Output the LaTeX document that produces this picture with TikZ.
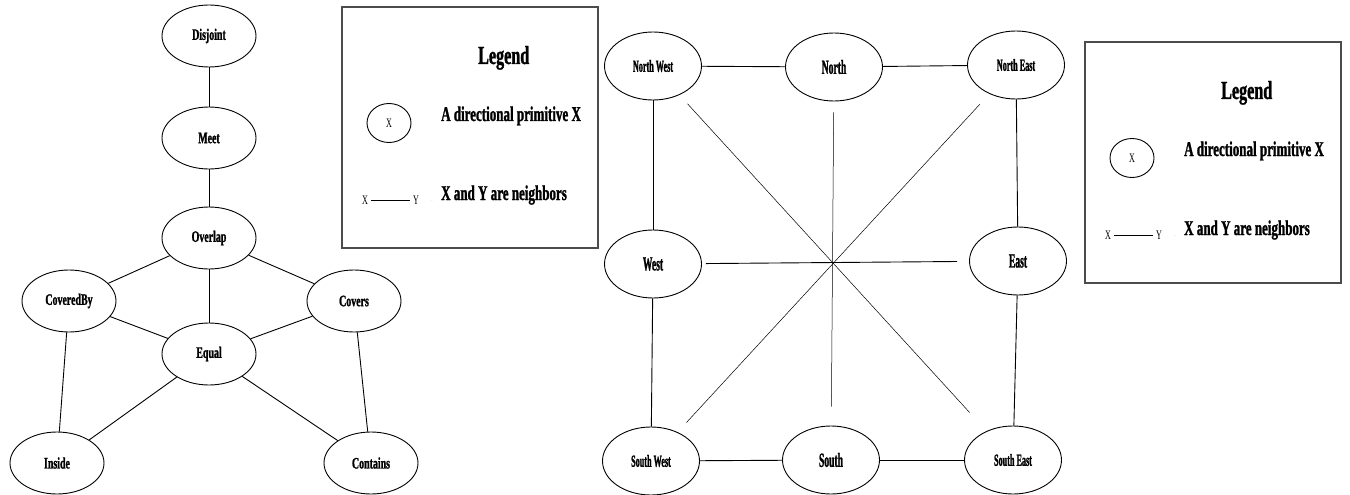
\documentclass[tikz,border=0pt]{standalone}
\usepackage{fontspec}
\setmainfont{Liberation Serif}[FakeStretch=0.62, BoldFeatures={FakeBold=1.2}]
\newfontfamily\narrowserif{Liberation Serif}[FakeStretch=0.48, BoldFeatures={FakeBold=1.2}]
\usetikzlibrary{shapes.geometric}

\tikzset{
  relnode/.style={draw, ellipse, line width=0.9pt, minimum width=94pt, minimum height=62pt, inner sep=0pt,
    font=\fontsize{16}{18}\selectfont\bfseries},
  dirnode/.style={draw, ellipse, line width=0.9pt, minimum width=97pt, minimum height=68pt, inner sep=0pt,
    font=\narrowserif\fontsize{20}{22}\selectfont\bfseries},
  dirsmall/.style={font=\narrowserif\fontsize{17}{19}\selectfont\bfseries},
  link/.style={line width=0.9pt},
  crossline/.style={line width=0.5pt},
  legendframe/.style={draw=black!70, line width=1.2pt},
  legendtext/.style={anchor=base west, inner sep=0pt, font=\fontsize{21}{24}\selectfont\bfseries},
  legendsmall/.style={font=\fontsize{13}{15}\selectfont},
}

\begin{document}
\begin{tikzpicture}[x=1pt, y=-1pt]

\useasboundingbox (0,0) rectangle (1350,495);

% topological relations
\node[relnode] (disjoint) at (209,36) {Disjoint};
\node[relnode] (meet) at (209,138) {Meet};
\node[relnode] (overlap) at (209,238) {Overlap};
\node[relnode] (coveredby) at (69,301) {CoveredBy};
\node[relnode] (covers) at (354,301) {Covers};
\node[relnode] (equal) at (209,354) {Equal};
\node[relnode] (inside) at (57,463) {Inside};
\node[relnode] (contains) at (371,463) {Contains};

\draw[link] (disjoint)--(meet);
\draw[link] (meet)--(overlap);
\draw[link] (overlap)--(coveredby);
\draw[link] (overlap)--(covers);
\draw[link] (overlap)--(equal);
\draw[link] (coveredby)--(equal);
\draw[link] (covers)--(equal);
\draw[link] (coveredby)--(inside);
\draw[link] (covers)--(contains);
\draw[link] (equal)--(inside);
\draw[link] (equal)--(contains);

% directional relations
\node[dirnode, dirsmall] (nw) at (653,66) {North West};
\node[dirnode] (n) at (834,67) {North};
\node[dirnode, dirsmall] (ne) at (1016,65) {North East};
\node[dirnode] (w) at (653,264) {West};
\node[dirnode] (e) at (1018,261) {East};
\node[dirnode, dirsmall] (sw) at (651,461) {South West};
\node[dirnode] (s) at (831,460) {South};
\node[dirnode, dirsmall] (se) at (1013,460) {South East};

\draw[link] (nw)--(n);
\draw[link] (n)--(ne);
\draw[link] (nw)--(w);
\draw[link] (w)--(sw);
\draw[link] (sw)--(s);
\draw[link] (s)--(se);
\draw[link] (ne)--(e);
\draw[link] (e)--(se);

\draw[crossline, shorten <=12pt, shorten >=25pt] (nw)--(se);
\draw[crossline, shorten <=14pt, shorten >=13pt] (ne)--(sw);
\draw[crossline, shorten <=11pt, shorten >=19pt] (n)--(s);
\draw[link, shorten <=4pt, shorten >=12pt] (w)--(e);

% legends
\foreach \dx/\dy/\k in {0/0/a, 743/35/b}{
  \begin{scope}[shift={(\dx,\dy)}]
    \draw[legendframe] (342,7) rectangle (598,248);
    \node[legendtext, font=\fontsize{26}{28}\selectfont\bfseries] (title\k) at (478,64) {Legend};
    \node[draw, ellipse, line width=0.9pt, minimum width=44pt, minimum height=39pt, inner sep=0pt, legendsmall] (prim\k) at (389,123) {X};
    \node[legendtext] (primtext\k) at (441,121) {A directional primitive X};
    \node[legendsmall] (lx\k) at (365,200) {X};
    \node[legendsmall] (ly\k) at (416,200) {Y};
    \draw[link] (lx\k)--(ly\k);
    \node[font=\fontsize{6}{6}\selectfont, text=black!50] (dot\k) at (432,201) {.};
    \node[legendtext] (nbtext\k) at (441,200) {X and Y are neighbors};
  \end{scope}
}

\end{tikzpicture}
\end{document}
